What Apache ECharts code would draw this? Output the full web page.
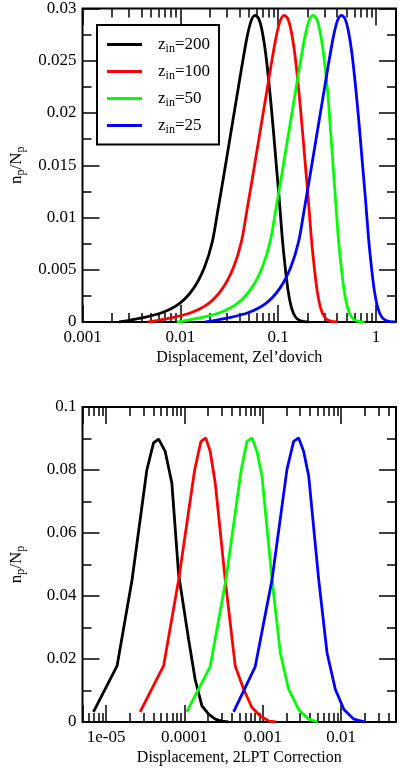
<!DOCTYPE html>
<html>
<head>
<meta charset="utf-8">
<script src="https://cdn.jsdelivr.net/npm/echarts@6/dist/echarts.min.js"></script>
<style>
html, body { margin: 0; padding: 0; background: #fff; }
#main { width: 399px; height: 771px; }
</style>
</head>
<body>
<div id="main"></div>
<script>
// top panel: displacement, Zel'dovich
var zelX200 = [0.00236, 0.00406, 0.00646, 0.00984, 0.01364, 0.01762, 0.02125, 0.02443, 0.02811, 0.03233, 0.03718, 0.04276, 0.04806, 0.05279, 0.05794, 0.06285, 0.06823, 0.07485, 0.08219, 0.08922, 0.09565, 0.1026, 0.1100, 0.1180, 0.1266, 0.1374, 0.1508, 0.1694, 0.2042];
var zelY200 = [0, 0.0004, 0.00088, 0.00178, 0.00322, 0.00522, 0.0077, 0.01094, 0.01428, 0.01772, 0.02116, 0.02459, 0.02726, 0.02879, 0.02935, 0.02907, 0.02793, 0.02555, 0.02202, 0.01839, 0.01504, 0.0117, 0.00808, 0.00522, 0.00293, 0.00131, 0.00045, 0.00011, 0];
var zelX100 = [0.00468, 0.00804, 0.0128, 0.01949, 0.02702, 0.03491, 0.0421, 0.0484, 0.05569, 0.06405, 0.07365, 0.08471, 0.09521, 0.1046, 0.1148, 0.1245, 0.1352, 0.1483, 0.1628, 0.1767, 0.1895, 0.2033, 0.2179, 0.2338, 0.2508, 0.2722, 0.2987, 0.3356, 0.4045];
var zelY100 = [0, 0.0004, 0.00088, 0.00178, 0.00322, 0.00522, 0.0077, 0.01094, 0.01428, 0.01772, 0.02116, 0.02459, 0.02726, 0.02879, 0.02935, 0.02907, 0.02793, 0.02555, 0.02202, 0.01839, 0.01504, 0.0117, 0.00808, 0.00522, 0.00293, 0.00131, 0.00045, 0.00011, 0];
var zelX50 = [0.0092, 0.01582, 0.02517, 0.03835, 0.05316, 0.06867, 0.08281, 0.0952, 0.1096, 0.126, 0.1449, 0.1666, 0.1873, 0.2057, 0.2258, 0.2449, 0.2659, 0.2917, 0.3203, 0.3425, 0.3634, 0.3858, 0.4115, 0.4415, 0.4736, 0.514, 0.5642, 0.6337, 0.7639];
var zelY50 = [0, 0.0004, 0.00088, 0.00178, 0.00322, 0.00522, 0.0077, 0.01094, 0.01428, 0.01772, 0.02116, 0.02459, 0.02726, 0.02879, 0.02935, 0.02907, 0.02793, 0.02555, 0.02202, 0.01839, 0.01504, 0.0117, 0.00808, 0.00522, 0.00293, 0.00131, 0.00045, 0.00011, 0];
var zelX25 = [0.01797, 0.03091, 0.04918, 0.07491, 0.1038, 0.1341, 0.1618, 0.186, 0.214, 0.2461, 0.2831, 0.3255, 0.3659, 0.4019, 0.4411, 0.4785, 0.5194, 0.5698, 0.6257, 0.6792, 0.7282, 0.7811, 0.8374, 0.8983, 0.9638, 1.046, 1.148, 1.29, 1.555];
var zelY25 = [0, 0.0004, 0.00088, 0.00178, 0.00322, 0.00522, 0.0077, 0.01094, 0.01428, 0.01772, 0.02116, 0.02459, 0.02726, 0.02879, 0.02935, 0.02907, 0.02793, 0.02555, 0.02202, 0.01839, 0.01504, 0.0117, 0.00808, 0.00522, 0.00293, 0.00131, 0.00045, 0.00011, 0];

// bottom panel: displacement, 2LPT correction
var lptX200 = [6.9e-6, 1.38e-5, 2.14e-5, 3.31e-5, 4.03e-5, 4.68e-5, 5.68e-5, 6.9e-5, 8.41e-5, 1.13e-4, 1.37e-4, 1.67e-4, 2.03e-4, 2.47e-4, 3.01e-4, 3.63e-4];
var lptY200 = [0.0032, 0.0178, 0.045, 0.080, 0.0886, 0.0898, 0.0859, 0.0759, 0.047, 0.0262, 0.0135, 0.0051, 0.0025, 0.0009, 0.0003, 0];
var lptX100 = [2.72e-5, 5.41e-5, 8.41e-5, 1.35e-4, 1.62e-4, 1.87e-4, 2.13e-4, 2.47e-4, 3.31e-4, 4.44e-4, 5.69e-4, 7.26e-4, 9.27e-4, 1.19e-3, 1.48e-3];
var lptY100 = [0.0032, 0.0178, 0.045, 0.0801, 0.0890, 0.0902, 0.0859, 0.0759, 0.0452, 0.0178, 0.0104, 0.0046, 0.0019, 0.0003, 0];
var lptX50 = [1.07e-4, 2.13e-4, 3.38e-4, 5.30e-4, 6.27e-4, 7.29e-4, 8.41e-4, 9.75e-4, 1.31e-3, 1.67e-3, 2.13e-3, 2.86e-3, 3.85e-3, 5.0e-3];
var lptY50 = [0.0032, 0.0176, 0.0452, 0.0801, 0.0891, 0.0902, 0.0859, 0.078, 0.0452, 0.022, 0.0104, 0.004, 0.0009, 0];
var lptX25 = [4.24e-4, 8.0e-4, 1.31e-3, 2.03e-3, 2.47e-3, 2.86e-3, 3.32e-3, 3.85e-3, 5.16e-3, 6.59e-3, 8.41e-3, 1.08e-2, 1.45e-2, 2.03e-2];
var lptY25 = [0.0032, 0.0176, 0.0452, 0.0801, 0.0891, 0.0902, 0.0859, 0.078, 0.0452, 0.022, 0.0104, 0.004, 0.0009, 0];

var zinNames = ['200', '100', '50', '25'];
var lineColors = ['#000000', '#ff0000', '#00ff00', '#0000ff'];

// axis ticks and labels
var zelXMajor = [0.001, 0.01, 0.1, 1];
var zelXLabels = ['0.001', '0.01', '0.1', '1'];
var zelXMinor = [0.002, 0.003, 0.004, 0.005, 0.006, 0.007, 0.008, 0.009,
  0.02, 0.03, 0.04, 0.05, 0.06, 0.07, 0.08, 0.09,
  0.2, 0.3, 0.4, 0.5, 0.6, 0.7, 0.8, 0.9];
var lptXMajor = [1e-5, 1e-4, 1e-3, 1e-2];
var lptXLabels = ['1e-05', '0.0001', '0.001', '0.01'];
var lptXMinor = [6e-6, 7e-6, 8e-6, 9e-6,
  2e-5, 3e-5, 4e-5, 5e-5, 6e-5, 7e-5, 8e-5, 9e-5,
  2e-4, 3e-4, 4e-4, 5e-4, 6e-4, 7e-4, 8e-4, 9e-4,
  2e-3, 3e-3, 4e-3, 5e-3, 6e-3, 7e-3, 8e-3, 9e-3,
  2e-2, 3e-2, 4e-2];

var FONT = 'Liberation Serif';
var panels = [
  { top: 8, height: 314, xmin: 0.001, xmax: 1.6, ymax: 0.03, yint: 0.005,
    major: zelXMajor, labels: zelXLabels, minor: zelXMinor,
    xname: 'Displacement, Zel\u2019dovich',
    xs: [zelX200, zelX100, zelX50, zelX25], ys: [zelY200, zelY100, zelY50, zelY25], smooth: 0.3 },
  { top: 407, height: 315, xmin: 5e-6, xmax: 0.05, ymax: 0.1, yint: 0.02,
    major: lptXMajor, labels: lptXLabels, minor: lptXMinor,
    xname: 'Displacement, 2LPT Correction',
    xs: [lptX200, lptX100, lptX50, lptX25], ys: [lptY200, lptY100, lptY50, lptY25], smooth: false }
];

var grids = [], xAxes = [], yAxes = [], series = [];

panels.forEach(function (p, g) {
  grids.push({ left: 80, top: p.top, width: 316, height: p.height, show: true,
    borderColor: '#000', borderWidth: 2, backgroundColor: 'transparent' });

  var tickStyle = { color: '#000', width: 1.5 };
  var logMajor = function (pos, withLabel) {
    return {
      type: 'log', logBase: 10, gridIndex: g, position: pos, min: p.xmin, max: p.xmax,
      axisLine: { show: false, onZero: false },
      axisTick: { show: true, inside: true, length: 17, lineStyle: tickStyle },
      splitLine: { show: false },
      axisLabel: {
        show: withLabel, color: '#000', fontFamily: FONT, fontSize: 17, margin: 7,
        formatter: function (v) {
          for (var i = 0; i < p.major.length; i++) {
            if (Math.abs(v / p.major[i] - 1) < 1e-6) return p.labels[i];
          }
          return '';
        }
      },
      name: withLabel ? p.xname : '', nameLocation: 'middle', nameGap: 28, nameMoveOverlap: false,
      nameTextStyle: { color: '#000', fontFamily: FONT, fontSize: 16 }
    };
  };
  var logMinor = function (pos) {
    return {
      type: 'value', gridIndex: g, position: pos,
      min: Math.log10(p.xmin), max: Math.log10(p.xmax),
      axisLine: { show: false, onZero: false }, splitLine: { show: false }, axisLabel: { show: false },
      axisTick: { show: true, inside: true, length: 9, lineStyle: tickStyle,
        customValues: p.minor.map(function (v) { return Math.log10(v); }) }
    };
  };
  xAxes.push(logMajor('bottom', true), logMajor('top', false), logMinor('bottom'), logMinor('top'));

  var yAxis = function (pos, withLabel) {
    return {
      type: 'value', gridIndex: g, position: pos, min: 0, max: p.ymax, interval: p.yint,
      axisLine: { show: false, onZero: false }, splitLine: { show: false },
      axisTick: { show: true, inside: true, length: 17, lineStyle: tickStyle },
      minorTick: { show: true, splitNumber: 2, length: 9, lineStyle: tickStyle },
      axisLabel: { show: withLabel, color: '#000', fontFamily: FONT, fontSize: 17, margin: 6 },
      name: withLabel ? '{n|n}{s|p}{n|/N}{s|p}' : '', nameLocation: 'middle', nameRotate: 90, nameGap: 56,
      nameMoveOverlap: false,
      nameTextStyle: {
        color: '#000', fontFamily: FONT,
        rich: {
          n: { fontFamily: FONT, fontSize: 17, lineHeight: 20, color: '#000' },
          s: { fontFamily: FONT, fontSize: 12, lineHeight: 11, verticalAlign: 'bottom', color: '#000' }
        }
      }
    };
  };
  yAxes.push(yAxis('left', true), yAxis('right', false));

  for (var k = 0; k < 4; k++) {
    var pts = p.xs[k].map(function (x, i) { return [x, p.ys[k][i]]; });
    series.push({
      name: zinNames[k], type: 'line', xAxisIndex: g * 4, yAxisIndex: g * 2,
      data: pts, symbol: 'none', showSymbol: false, smooth: p.smooth,
      lineStyle: { color: lineColors[k], width: 2.8 }, itemStyle: { color: lineColors[k] },
      z: 3, animation: false
    });
  }
});

var chart = echarts.init(document.getElementById('main'), null, { renderer: 'canvas' });
chart.setOption({
  animation: false,
  backgroundColor: '#fff',
  grid: grids,
  xAxis: xAxes,
  yAxis: yAxes,
  legend: {
    data: zinNames.map(function (n) { return { name: n, icon: 'rect' }; }),
    orient: 'vertical', left: 97, top: 25,
    padding: [11, 9, 9, 10], itemGap: 8.5, itemWidth: 35, itemHeight: 3,
    borderColor: '#000', borderWidth: 2, backgroundColor: '#fff',
    selectedMode: false,
    formatter: function (name) { return '{z|z}{s|in}{e|=' + name + '}'; },
    textStyle: {
      color: '#000', fontFamily: FONT,
      rich: {
        z: { fontFamily: FONT, fontSize: 17, lineHeight: 20, color: '#000', padding: [0, 0, 0, 11] },
        s: { fontFamily: FONT, fontSize: 12, lineHeight: 11, verticalAlign: 'bottom', color: '#000' },
        e: { fontFamily: FONT, fontSize: 17, lineHeight: 20, color: '#000' }
      }
    }
  },
  series: series
});
</script>
</body>
</html>
